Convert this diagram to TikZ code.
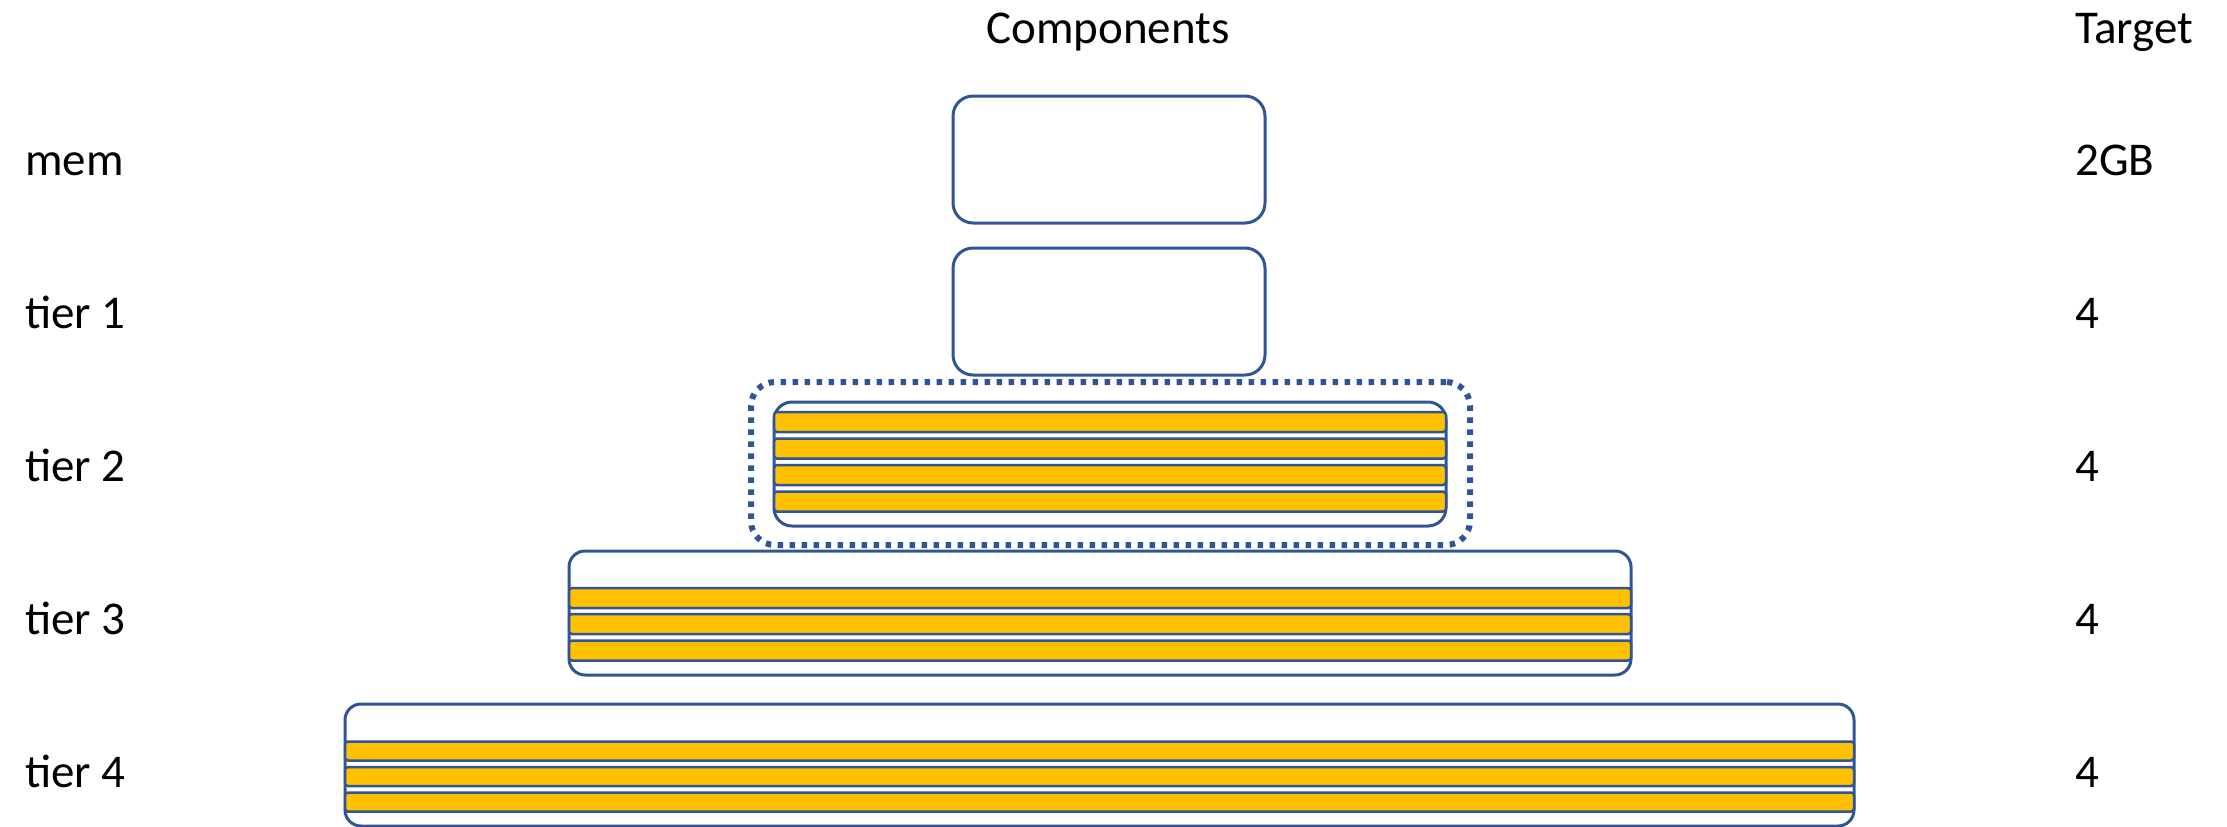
\documentclass[tikz,border=0pt]{standalone}
\usepackage{fontspec}
\setmainfont{Carlito}
\definecolor{edge}{HTML}{2F5597}
\definecolor{gold}{HTML}{FFC000}
\begin{document}
\begin{tikzpicture}[x=1pt,y=-1pt,
  lbl/.style={anchor=base west, inner sep=0pt, font=\fontsize{47}{56}\selectfont},
  hdr/.style={anchor=base west, inner sep=0pt, font=\fontsize{47}{56}\selectfont},
  box/.style={draw=edge, line width=3pt, fill=white, rounded corners=#1, inner sep=0pt},
  grp/.style={draw=edge, line width=6pt, dash pattern=on 5.5pt off 6.5pt, rounded corners=24pt, inner sep=0pt},
  bar/.style={draw=edge, line width=2.5pt, fill=gold, rounded corners=3pt, inner sep=0pt}]
\useasboundingbox (0,0) rectangle (2227,827);
% headers
\node[hdr] (hcomp) at (986,43) {Components};
\node[hdr] (htarget) at (2075,43) {Target};
% row labels
\node[lbl] (lmem) at (25,175) {mem};
\node[lbl] (l1) at (25,328) {tier 1};
\node[lbl] (l2) at (25,481) {tier 2};
\node[lbl] (l3) at (25,634) {tier 3};
\node[lbl] (l4) at (25,787) {tier 4};
% targets
\node[lbl] (tmem) at (2075,175) {2GB};
\node[lbl] (t1) at (2075,328) {4};
\node[lbl] (t2) at (2075,481) {4};
\node[lbl] (t3) at (2075,634) {4};
\node[lbl] (t4) at (2075,787) {4};
% boxes
\node[box=20pt, minimum width=312pt, minimum height=127pt] (mem) at (1109,159.5) {};
\node[box=20pt, minimum width=312pt, minimum height=127pt] (tier1) at (1109,311.5) {};
\node[grp, minimum width=719pt, minimum height=163pt] (sel) at (1110.5,463.5) {};
\node[box=18pt, minimum width=672pt, minimum height=124pt] (tier2) at (1110,464) {};
\foreach \y [count=\i] in {422,448.5,475,501.5}
  \node[bar, minimum width=672pt, minimum height=20pt] (t2b\i) at (1110,\y) {};
\node[box=16pt, minimum width=1062pt, minimum height=124pt] (tier3) at (1100,613) {};
\foreach \y [count=\i] in {598,624,650.5}
  \node[bar, minimum width=1062pt, minimum height=20pt] (t3b\i) at (1100,\y) {};
\node[box=16pt, minimum width=1509pt, minimum height=122pt] (tier4) at (1099.5,765) {};
\foreach \y [count=\i] in {751,776.5,802}
  \node[bar, minimum width=1509pt, minimum height=19pt] (t4b\i) at (1099.5,\y) {};
\end{tikzpicture}
\end{document}
